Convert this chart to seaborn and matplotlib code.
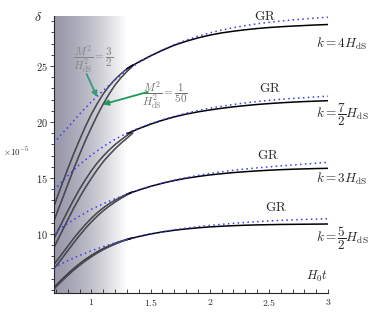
import numpy as np
import pandas as pd
import matplotlib
matplotlib.use("Agg")
import matplotlib.pyplot as plt
import seaborn as sns

# values (delta in units of 1e-5)
t_long = [0.684, 0.75, 0.8, 0.9, 1.0, 1.1, 1.2, 1.3, 1.4, 1.5, 1.6, 1.7, 1.8, 1.9, 2.0,
          2.1, 2.2, 2.3, 2.4, 2.5, 2.6, 2.7, 2.8, 2.9, 3.0]
gr_k4 = [18.1, 18.95, 19.5, 20.7, 21.8, 22.8, 23.75, 24.6, 25.3, 25.9, 26.45, 26.9, 27.3, 27.65,
         27.95, 28.2, 28.42, 28.6, 28.76, 28.9, 29.01, 29.11, 29.2, 29.28, 29.35]
gr_k35 = [13.9, 14.65, 15.2, 16.2, 17.05, 17.8, 18.45, 19.0, 19.45, 19.85, 20.2, 20.5, 20.78, 21.02,
          21.22, 21.4, 21.56, 21.7, 21.82, 21.93, 22.02, 22.1, 22.17, 22.24, 22.3]
gr_k3 = [10.1, 10.6, 10.95, 11.6, 12.2, 12.7, 13.15, 13.55, 13.92, 14.25, 14.55, 14.8, 15.03, 15.23,
         15.4, 15.55, 15.69, 15.8, 15.9, 15.99, 16.08, 16.16, 16.24, 16.32, 16.4]
gr_k25 = [6.95, 7.35, 7.62, 8.08, 8.5, 8.87, 9.2, 9.5, 9.77, 10.0, 10.2, 10.37, 10.52, 10.65,
          10.76, 10.86, 10.95, 11.03, 11.1, 11.16, 11.21, 11.26, 11.3, 11.33, 11.36]

t_solid = [1.3, 1.4, 1.5, 1.6, 1.7, 1.8, 1.9, 2.0, 2.1, 2.2, 2.3, 2.4, 2.5, 2.6, 2.7, 2.8, 2.9, 3.0]
sol_k4 = [24.75, 25.35, 25.9, 26.4, 26.85, 27.2, 27.5, 27.75, 27.95, 28.1, 28.23, 28.34, 28.43,
          28.5, 28.56, 28.61, 28.66, 28.7]
sol_k35 = [18.95, 19.4, 19.8, 20.15, 20.45, 20.7, 20.9, 21.07, 21.22, 21.35, 21.46, 21.56, 21.64,
           21.71, 21.77, 21.82, 21.86, 21.9]
sol_k3 = [13.55, 13.92, 14.25, 14.53, 14.77, 14.97, 15.13, 15.27, 15.38, 15.48, 15.56, 15.63, 15.69,
          15.74, 15.78, 15.81, 15.84, 15.86]
sol_k25 = [9.5, 9.77, 10.0, 10.18, 10.33, 10.45, 10.55, 10.63, 10.69, 10.74, 10.78, 10.81, 10.83,
           10.85, 10.86, 10.87, 10.88, 10.89]

# massive graviton curves inside the shaded region (M^2/H^2 = 3/2 and 1/50)
t_early = [0.684, 0.75, 0.8, 0.85, 0.9, 0.95, 1.0, 1.05, 1.1, 1.15, 1.2, 1.25, 1.3, 1.35]
m32_k4 = [12.5, 14.4, 15.8, 17.15, 18.4, 19.6, 20.7, 21.65, 22.5, 23.2, 23.8, 24.3, 24.75, 25.1]
m150_k4 = [11.2, 13.0, 14.4, 15.8, 17.1, 18.35, 19.5, 20.6, 21.6, 22.5, 23.3, 23.95, 24.5, 25.0]
m32_k35 = [9.6, 11.0, 12.05, 13.05, 14.0, 14.85, 15.65, 16.35, 16.95, 17.5, 17.98, 18.4, 18.8, 19.15]
m150_k35 = [8.8, 10.2, 11.25, 12.3, 13.25, 14.15, 14.97, 15.75, 16.45, 17.05, 17.6, 18.1, 18.55, 19.0]
m32_k3 = [7.3, 8.2, 8.9, 9.6, 10.25, 10.85, 11.4, 11.9, 12.33, 12.7, 13.02, 13.3, 13.55, 13.78]
m150_k3 = [6.9, 7.8, 8.5, 9.2, 9.87, 10.5, 11.07, 11.6, 12.07, 12.48, 12.85, 13.18, 13.48, 13.76]
m32_k25 = [5.25, 5.95, 6.45, 6.92, 7.35, 7.75, 8.1, 8.42, 8.7, 8.95, 9.17, 9.36, 9.52, 9.67]
m150_k25 = [5.1, 5.8, 6.3, 6.77, 7.2, 7.6, 7.97, 8.3, 8.6, 8.86, 9.09, 9.3, 9.48, 9.65]

k_labels = [r"$k=4H_{\rm dS}$", r"$k=\dfrac{7}{2}H_{\rm dS}$", r"$k=3H_{\rm dS}$", r"$k=\dfrac{5}{2}H_{\rm dS}$"]
k_label_y = [27.0, 20.6, 14.9, 9.6]
gr_label_pos = [(2.465, 29.4), (2.507, 23.0), (2.49, 17.05), (2.56, 12.4)]

sns.set_style("ticks")
plt.rcParams["mathtext.fontset"] = "cm"
plt.rcParams["font.family"] = ["DejaVu Serif"]

fig = plt.figure(figsize=(3.82, 3.13), dpi=100)
ax = fig.add_axes([54 / 382, 1 - 293 / 313, 274 / 382, 277 / 313])
xmin, xmax, ymin, ymax = 0.684, 3.0, 4.73, 29.46

# grey shading, fading to white
grad = np.linspace(0, 1, 256) ** 1.4
c0 = np.array([0.60, 0.60, 0.67])
img = c0[None, :] + (1 - c0[None, :]) * grad[:, None]
ax.imshow(img[None, :, :], extent=[xmin, 1.30, ymin, ymax], aspect="auto", zorder=0,
          interpolation="bilinear")

early = pd.DataFrame({"t": t_early})
for a, b in [(m32_k4, m150_k4), (m32_k35, m150_k35), (m32_k3, m150_k3), (m32_k25, m150_k25)]:
    for vals in (a, b):
        sns.lineplot(x=early["t"], y=vals, ax=ax, color="#26262b", lw=1.05, zorder=2)
        sns.lineplot(x=early["t"], y=vals, ax=ax, color="#8c8c96", lw=0.25, zorder=2)

for vals in (sol_k4, sol_k35, sol_k3, sol_k25):
    sns.lineplot(x=t_solid, y=vals, ax=ax, color="black", lw=1.1, zorder=3)

for vals in (gr_k4, gr_k35, gr_k3, gr_k25):
    sns.lineplot(x=t_long, y=vals, ax=ax, color="#3b3bf0", lw=1.1, ls=(0, (1, 2.2)), zorder=4)

for (gx, gy), lab, ly in zip(gr_label_pos, k_labels, k_label_y):
    ax.text(gx, gy, r"$\mathrm{GR}$", fontsize=9.5, ha="center", va="center")
    ax.text(2.9, ly, lab, fontsize=9.5, ha="left", va="center", clip_on=False)

ax.text(1.014, 25.6, r"$\dfrac{M^2}{H_{\rm dS}^2}=\dfrac{3}{2}$", fontsize=8, color="#858585",
        ha="center", va="center")
ax.text(1.62, 22.4, r"$\dfrac{M^2}{H_{\rm dS}^2}=\dfrac{1}{50}$", fontsize=8, color="#707070",
        ha="center", va="center")
ax.annotate("", xy=(1.058, 22.0), xytext=(0.95, 24.5),
            arrowprops=dict(arrowstyle="-|>", color="#3a9a7a", lw=1.3, mutation_scale=8))
ax.annotate("", xy=(1.075, 21.5), xytext=(1.50, 22.75),
            arrowprops=dict(arrowstyle="-|>", color="#1f9a5a", lw=1.3, mutation_scale=8))

ax.text(2.995, 6.2, r"$H_0t$", fontsize=9, ha="right", va="center")
fig.text(38 / 382, 1 - 17 / 313, r"$\delta$", fontsize=10, ha="center", va="center")
fig.text(3 / 382, 1 - 152 / 313, r"$\times10^{-5}$", fontsize=6.5, ha="left", va="center")

ax.set_xlim(xmin, xmax)
ax.set_ylim(ymin, ymax)
ax.set_xticks([1, 1.5, 2, 2.5, 3])
ax.set_xticklabels([r"$1$", r"$1.5$", r"$2$", r"$2.5$", r"$3$"])
ax.set_xticks(np.arange(0.7, 3.0, 0.1), minor=True)
ax.set_yticks([10, 15, 20, 25])
ax.set_yticklabels([r"$10$", r"$15$", r"$20$", r"$25$"])
ax.set_yticks(np.arange(5, 30, 1), minor=True)
ax.tick_params(axis="x", which="both", direction="in", length=3, width=0.6, labelsize=7, pad=3)
ax.tick_params(axis="y", which="major", direction="out", length=3, width=0.6, labelsize=7.5, pad=1.5)
ax.tick_params(axis="y", which="minor", direction="out", length=2.5, width=0.6)
sns.despine(ax=ax)
for s in ("left", "bottom"):
    ax.spines[s].set_linewidth(0.8)
ax.set_xlabel("")
ax.set_ylabel("")

fig.savefig("out.png", dpi=100)
